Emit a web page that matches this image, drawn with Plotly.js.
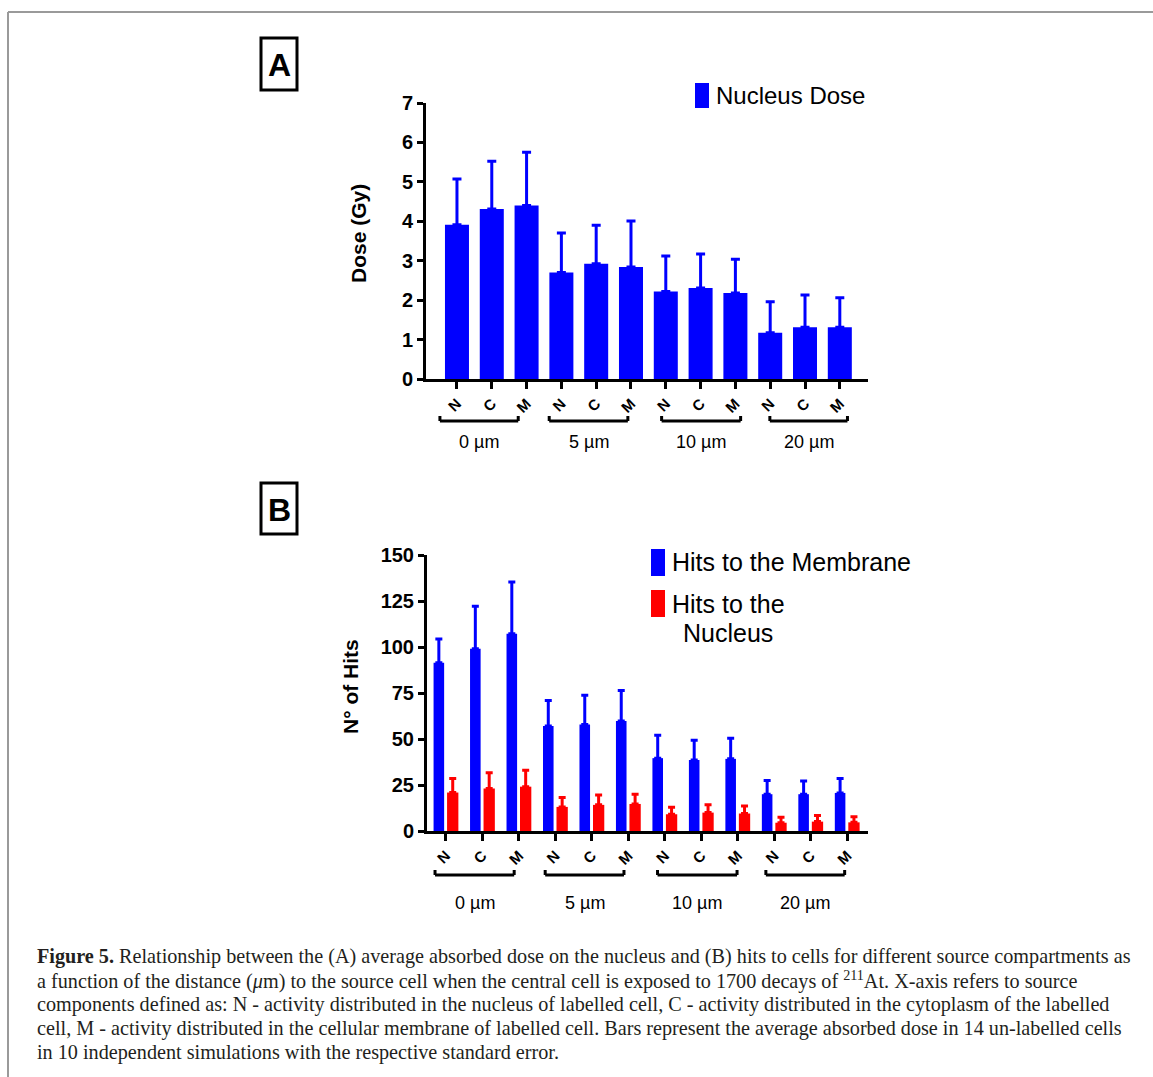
<!DOCTYPE html>
<html>
<head>
<meta charset="utf-8">
<script src="https://cdn.plot.ly/plotly-3.0.1.min.js"></script>
<style>
html,body{margin:0;padding:0;background:#fff;}
#chart{width:1153px;height:1077px;}
</style>
</head>
<body>
<div id="chart"></div>
<script>
// ---------------- data ----------------
const sourceLabels = ['N','C','M','N','C','M','N','C','M','N','C','M'];
const distanceLabels = ['0 \u00b5m','5 \u00b5m','10 \u00b5m','20 \u00b5m'];
const barIndex = [0,1,2,3,4,5,6,7,8,9,10,11];

// Panel A: nucleus dose (Gy) and upper standard error
const doseMean = [3.91,4.31,4.40,2.70,2.92,2.84,2.22,2.31,2.18,1.17,1.31,1.31];
const doseErr  = [1.16,1.21,1.35,1.00,0.98,1.17,0.90,0.86,0.86,0.79,0.82,0.75];

// Panel B: number of hits
const membraneHits = [91.4,99.0,107.2,57.1,57.9,59.8,39.6,38.6,39.2,20.0,20.0,20.7];
const membraneErr  = [12.9,23.1,28.1,13.8,15.9,16.6,12.5,10.7,11.2,7.4,7.2,7.8];
const nucleusHits  = [20.9,23.1,24.1,13.1,14.2,14.7,9.1,10.0,9.5,4.5,5.1,4.7];
const nucleusErr   = [7.6,8.5,8.9,5.1,5.4,5.3,3.8,4.2,4.1,3.0,3.3,3.1];

const legendA = ['Nucleus Dose'];
const legendB = ['Hits to the Membrane','Hits to the','Nucleus'];
const yTitleA = 'Dose (Gy)';
const yTitleB = 'N\u00b0 of Hits';

// bracket spans (in bar-index units) for the distance groups
const bracketA = [[-0.49,1.76],[2.65,4.91],[5.88,8.15],[8.99,11.22]];
const bracketB = [[-0.30,1.87],[2.72,4.88],[5.80,7.98],[8.77,10.93]];

const caption = [
  '<b>Figure 5.</b> Relationship between the (A) average absorbed dose on the nucleus and (B) hits to cells for different source compartments as',
  'a function of the distance (<i>\u03bc</i>m) to the source cell when the central cell is exposed to 1700 decays of <sup>211</sup>At. X-axis refers to source',
  'components defined as: N - activity distributed in the nucleus of labelled cell, C - activity distributed in the cytoplasm of the labelled',
  'cell, M - activity distributed in the cellular membrane of labelled cell. Bars represent the average absorbed dose in 14 un-labelled cells',
  'in 10 independent simulations with the respective standard error.'
];

// ---------------- geometry helpers ----------------
const W = 1153, H = 1077;
const px = x => x / W;
const py = y => 1 - y / H;

const A = {x0:426, x1:868, y0:103, y1:379, range:[-0.89, 11.81]};
const B = {x0:427, x1:868, y0:555, y1:831, range:[-0.52, 11.57]};
function idxToPaper(P, i){ return px(P.x0 + (i - P.range[0]) / (P.range[1]-P.range[0]) * (P.x1 - P.x0)); }

const BLUE = '#0000ff', RED = '#ff0000';
const SANS = 'Liberation Sans, Arial, sans-serif';
const SERIF = 'Liberation Serif, Times New Roman, serif';

const traces = [
  {type:'bar', x:barIndex, y:doseMean, xaxis:'x', yaxis:'y', width:0.69,
   marker:{color:BLUE, line:{width:0}},
   error_y:{type:'data', symmetric:false, array:doseErr, arrayminus:doseErr.map(()=>0),
            color:BLUE, thickness:3, width:4.5},
   showlegend:false, hoverinfo:'none'},
  {type:'bar', x:barIndex, y:membraneHits, xaxis:'x2', yaxis:'y2', width:0.29, offset:-0.34,
   marker:{color:BLUE, line:{width:0}},
   error_y:{type:'data', symmetric:false, array:membraneErr, arrayminus:membraneErr.map(()=>0),
            color:BLUE, thickness:3, width:3.5},
   showlegend:false, hoverinfo:'none'},
  {type:'bar', x:barIndex, y:nucleusHits, xaxis:'x2', yaxis:'y2', width:0.31, offset:0.03,
   marker:{color:RED, line:{width:0}},
   error_y:{type:'data', symmetric:false, array:nucleusErr, arrayminus:nucleusErr.map(()=>0),
            color:RED, thickness:3, width:3.5},
   showlegend:false, hoverinfo:'none'}
];

const tickFontY = {family:SANS, size:20, color:'#000', weight:'bold'};
const tickFontX = {family:SANS, size:15, color:'#000', weight:'bold'};

function xAxis(P, anchor){
  return {domain:[px(P.x0), px(P.x1)], range:P.range, anchor:anchor, type:'linear',
    tickmode:'array', tickvals:barIndex, ticktext:sourceLabels, tickangle:-45,
    ticks:'outside', ticklen:7, tickwidth:3, tickcolor:'#000',
    showline:true, linecolor:'#000', linewidth:3, showgrid:false, zeroline:false,
    tickfont:tickFontX, fixedrange:true};
}
function yAxis(P, anchor, range, dtick){
  return {domain:[py(P.y1), py(P.y0)], range:range, anchor:anchor,
    tickmode:'linear', tick0:0, dtick:dtick,
    ticks:'outside', ticklen:6, tickwidth:3, tickcolor:'#000',
    showline:true, linecolor:'#000', linewidth:3, showgrid:false, zeroline:false,
    tickfont:tickFontY, fixedrange:true};
}

const shapes = [];
const annotations = [];

// frame of the figure
shapes.push({type:'line', xref:'paper', yref:'paper', x0:px(8), x1:px(1153), y0:py(12), y1:py(12), line:{color:'#9a9a9a', width:2}});
shapes.push({type:'line', xref:'paper', yref:'paper', x0:px(8), x1:px(8), y0:py(12), y1:py(1077), line:{color:'#9a9a9a', width:2}});

// panel labels
[['A',38,90],['B',483,534]].forEach(([t,y0,y1])=>{
  shapes.push({type:'rect', xref:'paper', yref:'paper', x0:px(261), x1:px(297), y0:py(y1), y1:py(y0), line:{color:'#000', width:3}, fillcolor:'rgba(0,0,0,0)'});
  annotations.push({xref:'paper', yref:'paper', x:px(279), y:py((y0+y1)/2+1), text:'<b>'+t+'</b>', showarrow:false,
    font:{family:SANS, size:32, color:'#000'}, xanchor:'center', yanchor:'middle'});
});

// brackets + group labels
function brackets(P, spans, yLine, yText){
  spans.forEach((s,g)=>{
    const xa = idxToPaper(P, s[0]), xb = idxToPaper(P, s[1]);
    shapes.push({type:'line', xref:'paper', yref:'paper', x0:xa, x1:xb, y0:py(yLine), y1:py(yLine), line:{color:'#000', width:3}});
    shapes.push({type:'line', xref:'paper', yref:'paper', x0:xa, x1:xa, y0:py(yLine), y1:py(yLine-5), line:{color:'#000', width:3}});
    shapes.push({type:'line', xref:'paper', yref:'paper', x0:xb, x1:xb, y0:py(yLine), y1:py(yLine-5), line:{color:'#000', width:3}});
    annotations.push({xref:'paper', yref:'paper', x:(xa+xb)/2, y:py(yText), text:distanceLabels[g], showarrow:false,
      font:{family:SANS, size:18, color:'#000'}, xanchor:'center', yanchor:'middle'});
  });
}
brackets(A, bracketA, 421, 442);
brackets(B, bracketB, 875, 903);

// y-axis titles
annotations.push({xref:'paper', yref:'paper', x:px(358), y:py(234), text:'<b>'+yTitleA+'</b>', textangle:-90, showarrow:false,
  font:{family:SANS, size:21, color:'#000'}, xanchor:'center', yanchor:'middle'});
annotations.push({xref:'paper', yref:'paper', x:px(350), y:py(687), text:'<b>'+yTitleB+'</b>', textangle:-90, showarrow:false,
  font:{family:SANS, size:21, color:'#000'}, xanchor:'center', yanchor:'middle'});

// legends
shapes.push({type:'rect', xref:'paper', yref:'paper', x0:px(695), x1:px(709), y0:py(108), y1:py(83), line:{width:0}, fillcolor:BLUE});
annotations.push({xref:'paper', yref:'paper', x:px(714), y:py(96), text:legendA[0], showarrow:false,
  font:{family:SANS, size:24, color:'#000'}, xanchor:'left', yanchor:'middle'});
shapes.push({type:'rect', xref:'paper', yref:'paper', x0:px(651), x1:px(665), y0:py(576), y1:py(549), line:{width:0}, fillcolor:BLUE});
shapes.push({type:'rect', xref:'paper', yref:'paper', x0:px(651), x1:px(665), y0:py(617), y1:py(590), line:{width:0}, fillcolor:RED});
annotations.push({xref:'paper', yref:'paper', x:px(670), y:py(562), text:legendB[0], showarrow:false,
  font:{family:SANS, size:25, color:'#000'}, xanchor:'left', yanchor:'middle'});
annotations.push({xref:'paper', yref:'paper', x:px(670), y:py(604), text:legendB[1], showarrow:false,
  font:{family:SANS, size:25, color:'#000'}, xanchor:'left', yanchor:'middle'});
annotations.push({xref:'paper', yref:'paper', x:px(681), y:py(633), text:legendB[2], showarrow:false,
  font:{family:SANS, size:25, color:'#000'}, xanchor:'left', yanchor:'middle'});

// caption
const capY = [956, 980, 1004, 1028, 1052];
caption.forEach((t,i)=>{
  annotations.push({xref:'paper', yref:'paper', x:px(35), y:py(capY[i]), text:t, showarrow:false,
    font:{family:SERIF, size:20.2, color:'#231f20'}, xanchor:'left', yanchor:'middle', align:'left'});
});

const layout = {
  width:W, height:H, margin:{l:0, r:0, t:0, b:0},
  paper_bgcolor:'#fff', plot_bgcolor:'rgba(0,0,0,0)',
  barmode:'overlay', showlegend:false,
  xaxis:xAxis(A,'y'), yaxis:yAxis(A,'x',[0,7],1),
  xaxis2:xAxis(B,'y2'), yaxis2:yAxis(B,'x2',[0,150],25),
  shapes:shapes, annotations:annotations
};

Plotly.newPlot('chart', traces, layout, {displayModeBar:false, staticPlot:true});
</script>
</body>
</html>
